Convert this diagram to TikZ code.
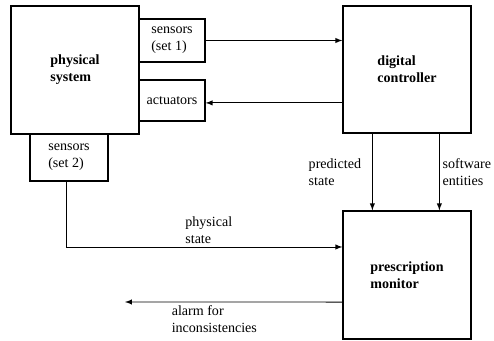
\documentclass[tikz,border=0pt]{standalone}
\usepackage{fontspec}
\setmainfont{Liberation Serif}
\usepackage{tikz}
\usetikzlibrary{arrows,positioning,calc}

\begin{document}
\begin{tikzpicture}[x=0.025cm, y=-0.025cm, >=latex,
    block/.style={draw, line width=0.9pt, font=\bfseries, align=left, inner sep=2pt},
    port/.style={draw, line width=0.9pt, align=left, inner sep=2pt},
    tag/.style={align=left, inner sep=2pt}]
        \useasboundingbox (0,0) rectangle (494,341);

        % Main blocks
        \node[block, minimum width=3.2cm, minimum height=3.2cm] (phys) at (75,70) {physical\\system};
        \node[block, minimum width=3.2cm, minimum height=3.175cm] (ctrl) at (407,69.5) {digital\\controller};
        \node[block, minimum width=3.2cm, minimum height=3.2cm] (mon) at (407,275) {prescription\\monitor};

        % Sensor and actuator boxes on the physical system
        \node[port, minimum width=1.65cm, minimum height=1.075cm] (sens1) at (172,40.5) {sensors\\(set 1)};
        \node[port, minimum width=1.65cm, minimum height=1.025cm] (act) at (172,100.5) {actuators};
        \node[port, minimum width=1.95cm, minimum height=1.175cm] (sens2) at (69,157.5) {sensors\\(set 2)};
        \coordinate (alarm) at (125,302);

        % Controller loop
        \draw[->, line width=0.7pt] (sens1) -- (sens1 -| ctrl.west);
        \draw[->, line width=0.7pt] ([yshift=-0.06cm]act.east -| ctrl.west) -- ([yshift=-0.06cm]act.east);

        % Outputs of the controller to the monitor
        \draw[->, line width=0.7pt] ([xshift=0.75cm]ctrl.south west) -- ([xshift=0.75cm]mon.north west)
            node[tag, midway, left, xshift=-0.2cm] {predicted\\state};
        \draw[->, line width=0.7pt] ([xshift=2.425cm]ctrl.south west) -- ([xshift=2.425cm]mon.north west)
            node[tag, midway, right] {software\\entities};

        % Physical state and alarm
        \draw[->, line width=0.7pt] ([xshift=-0.075cm]sens2.south) |- ([yshift=0.7cm]mon.west)
            node[tag, pos=0.71, anchor=south west] {physical\\state};
        \draw[->, line width=0.7pt] ([yshift=-0.675cm]mon.west) -- (alarm)
            node[tag, pos=0.8, anchor=north west] {alarm for\\inconsistencies};
    \end{tikzpicture}
\end{document}
